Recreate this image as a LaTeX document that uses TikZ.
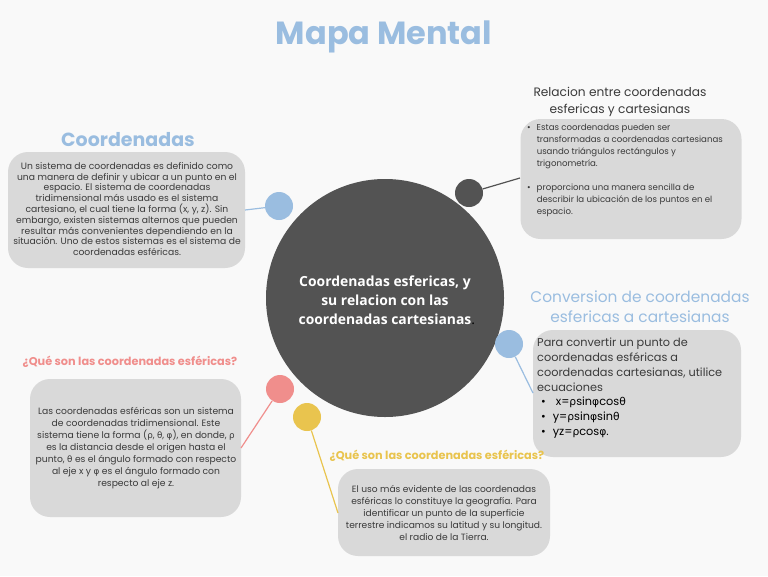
\documentclass[tikz,border=0pt]{standalone}
\usepackage{fontspec}
\setmainfont{Poppins}
\newfontfamily\opensans{Open Sans}
\newfontfamily\grk[Scale=0.95]{DejaVu Sans}
\definecolor{bg}{HTML}{F9F9F9}
\definecolor{mblue}{HTML}{9ABDE0}
\definecolor{mdark}{HTML}{535353}
\definecolor{mpink}{HTML}{F08E8C}
\definecolor{myel}{HTML}{E9C44E}
\definecolor{mbox}{HTML}{D9D9D9}
\definecolor{mtext}{HTML}{3A3A3A}
\newcommand{\gk}[1]{{\grk #1}}
\tikzset{
  bubble/.style={circle,minimum size=28pt,inner sep=0pt},
  infobox/.style={fill=mbox,rounded corners=20pt},
  body/.style={text=mtext,align=center,inner sep=0pt},
  conn/.style={line width=1.2pt},
}
\begin{document}
\begin{tikzpicture}[x=1pt,y=-1pt]
\fill[bg] (0,0) rectangle (768,576);
\useasboundingbox (0,0) rectangle (768,576);

% title
\node[text=mblue,font=\bfseries\fontsize{32}{36}\selectfont] (title) at (384,37) {Mapa Mental};

% central circle
\node[circle,fill=mdark,minimum size=238pt,inner sep=0pt] (center) at (385,298) {};
\node[text=white,align=center,font=\opensans\bfseries\fontsize{13.9}{19}\selectfont] (ctext) at (385,300)
  {Coordenadas esfericas, y\\su relacion con las\\coordenadas cartesianas\rlap{\textcolor{black}{\mdseries.}}};

% bubbles
\node[bubble,fill=mblue] (b1) at (279,206) {};
\node[bubble,fill=mdark] (b2) at (469,193) {};
\node[bubble,fill=mblue] (b3) at (509,344) {};
\node[bubble,fill=mpink] (b4) at (280,389) {};
\node[bubble,fill=myel] (b5) at (307,417) {};

% boxes
\node[infobox,minimum width=237pt,minimum height=116pt] (box1) at (126.5,210) {};
\node[infobox,minimum width=221pt,minimum height=120pt] (box2) at (631,179) {};
\node[infobox,minimum width=208pt,minimum height=127pt] (box3) at (637,393.5) {};
\node[infobox,minimum width=211pt,minimum height=138pt] (box4) at (135.5,448) {};
\node[infobox,minimum width=212pt,minimum height=87pt] (box5) at (444,512.5) {};

% connectors
\coordinate (e1) at (245,210);
\coordinate (e2) at (520,178);
\coordinate (e3) at (533,393);
\coordinate (e4) at (241,448);
\coordinate (e5) at (338,513);
\draw[conn,mblue] (b1) -- (e1);
\draw[conn,mdark] (b2) -- (e2);
\draw[conn,mblue] (b3) -- (e3);
\draw[conn,mpink] (b4) -- (e4);
\draw[conn,myel] (b5) -- (e5);

% headings
\node[text=mblue,font=\bfseries\fontsize{19}{22}\selectfont] (h1) at (128,140) {Coordenadas};
\node[text=mtext,align=center,font=\fontsize{12.2}{16.5}\selectfont] (h2) at (620,102) {Relacion entre coordenadas\\esfericas y cartesianas};
\node[text=mblue,align=center,font=\fontsize{15.4}{20}\selectfont] (h3) at (640,306.5) {Conversion de coordenadas\\esfericas a cartesianas};
\node[text=mpink,font=\bfseries\fontsize{11.3}{13}\selectfont] (h4) at (130,362) {¿Qué son las coordenadas esféricas?};
\node[text=myel,font=\bfseries\fontsize{11.3}{13}\selectfont] (h5) at (437,456) {¿Qué son las coordenadas esféricas?};

% texts
\node[body,font=\fontsize{9.2}{10.8}\selectfont] (t1) at (127,209) {Un sistema de coordenadas es definido como\\una manera de definir y ubicar a un punto en el\\espacio. El sistema de coordenadas\\tridimensional más usado es el sistema\\cartesiano, el cual tiene la forma (x, y, z). Sin\\embargo, existen sistemas alternos que pueden\\resultar más convenientes dependiendo en la\\situación. Uno de estos sistemas es el sistema de\\coordenadas esféricas.};

\node[body,align=left,anchor=north west,font=\fontsize{8.6}{12}\selectfont] (t2) at (527,122)
 {\begin{tabular}{@{}l@{\hspace{6pt}}l@{}}
 \textbullet & Estas coordenadas pueden ser\\
  & transformadas a coordenadas cartesianas\\
  & usando triángulos rectángulos y\\
  & trigonometría.\\[12pt]
 \textbullet & proporciona una manera sencilla de\\
  & describir la ubicación de los puntos en el\\
  & espacio.
 \end{tabular}};

\node[body,align=left,anchor=north west,font=\fontsize{11.3}{14.8}\selectfont] (t3) at (537,338)
 {Para convertir un punto de\\coordenadas esféricas a\\coordenadas cartesianas, utilice\\ecuaciones};
\node[body,align=left,anchor=north west,font=\fontsize{11.3}{15}\selectfont,text=black] (t3b) at (541,395)
 {\begin{tabular}{@{}l@{\hspace{7pt}}l@{}}
 \textbullet & \ x=\gk{ρ}sin\gk{φ}cos\gk{θ}\\
 \textbullet & y=\gk{ρ}sin\gk{φ}sin\gk{θ}\\
 \textbullet & yz=\gk{ρ}cos\gk{φ}.
 \end{tabular}};

\node[body,font=\fontsize{9.2}{12}\selectfont] (t4) at (136,448) {Las coordenadas esféricas son un sistema\\de coordenadas tridimensional. Este\\sistema tiene la forma (\gk{ρ}, \gk{θ}, \gk{φ}), en donde, \gk{ρ}\\es la distancia desde el origen hasta el\\punto, \gk{θ} es el ángulo formado con respecto\\al eje x y \gk{φ} es el ángulo formado con\\respecto al eje z.};

\node[body,font=\fontsize{9.1}{12}\selectfont] (t5) at (444,513) {El uso más evidente de las coordenadas\\esféricas lo constituye la geografía. Para\\identificar un punto de la superficie\\terrestre indicamos su latitud y su longitud.\\el radio de la Tierra.};
\end{tikzpicture}
\end{document}
